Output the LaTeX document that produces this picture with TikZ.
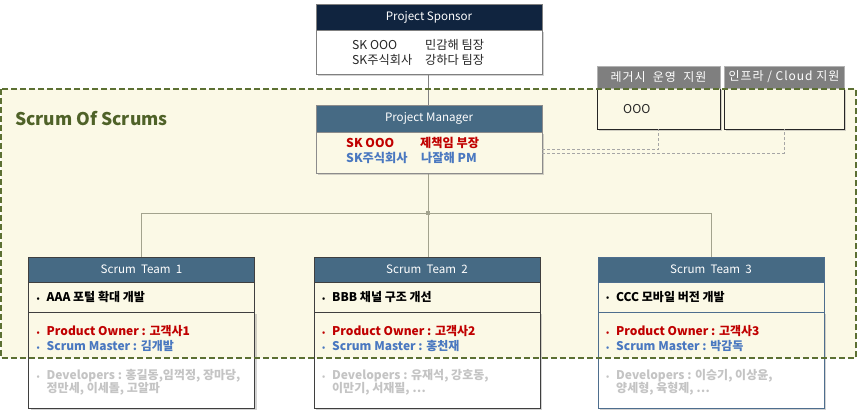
\documentclass[tikz,border=0pt]{standalone}
\usepackage{fontspec}
\setmainfont{Noto Sans CJK KR}
\usetikzlibrary{shadows,calc}

\definecolor{navy}{HTML}{10243F}
\definecolor{steel}{HTML}{466A84}
\definecolor{cream}{HTML}{FBF9E6}
\definecolor{olive}{HTML}{5C7033}
\definecolor{olivetext}{HTML}{4F6228}
\definecolor{pored}{HTML}{C00000}
\definecolor{smblue}{HTML}{4A78C0}
\definecolor{devgray}{HTML}{C4C4C4}
\definecolor{linkgray}{HTML}{A3A38E}
\definecolor{hdrgray}{HTML}{7F7F7F}
\definecolor{darkline}{HTML}{3F3F3F}
\definecolor{blueline}{HTML}{4E6E8E}

% font sizes
\newcommand\teamfont{\fontsize{12}{14}\selectfont}
\newcommand\bodyfont{\fontsize{12.2}{14}\selectfont}
\newcommand\headfont{\fontsize{11.6}{14}\selectfont}

% one bulleted line of text
\newcommand\bul[1]{\makebox[10pt][l]{\fontsize{8}{8}\selectfont\raisebox{0.5pt}{•}}#1}

% a scrum team card: name, centre x, border colour, number, goal, PO, SM, developers (two lines)
\newcommand\teamcard[9]{%
  \node[box=#3, fill=cream, shad, minimum width=226, minimum height=96,
        path picture={\fill[white] (path picture bounding box.south west)
          rectangle (path picture bounding box.east |- sosb);}] (#1b) at (#2,360) {};
  \node[box=#3, fill=cream, minimum width=226, minimum height=30] (#1a) at (#2,297) {};
  \node[box=#3, fill=steel, minimum width=226, minimum height=25, text=white, font=\headfont] (#1) at (#2,269.5) {Scrum\ \ Team\ \ #4};
  \node[txt, font=\teamfont\bfseries] (#1g) at ($(#1a.west)+(8,0)$) {\bul{#5}};
  \node[txt, font=\teamfont\bfseries, text=pored] (#1po) at ($(#1b.west)+(8,-29)$) {\bul{Product Owner : #6}};
  \node[txt, font=\teamfont\bfseries, text=smblue] (#1sm) at ($(#1b.west)+(8,-14)$) {\bul{Scrum Master : #7}};
  \node[txt, font=\teamfont\bfseries, text=devgray] (#1d1) at ($(#1b.west)+(8,16)$) {\bul{Developers : #8}};
  \node[txt, font=\teamfont\bfseries, text=devgray] (#1d2) at ($(#1b.west)+(18,29)$) {#9};
}

\begin{document}
\begin{tikzpicture}[x=1pt,y=-1pt, font=\bodyfont,
  box/.style={draw=#1, inner sep=0pt, outer sep=0pt, line width=0.8pt},
  shad/.style={drop shadow={shadow xshift=2pt, shadow yshift=-2pt, opacity=0.35}},
  txt/.style={anchor=west, inner sep=0pt},
  upline/.style={draw=gray, line width=0.8pt},
  lowline/.style={draw=linkgray, line width=0.9pt},
  dotline/.style={draw=black!35, line width=0.7pt, dash pattern=on 3pt off 2pt},
  sosline/.style={draw=olive, line width=2pt, dash pattern=on 6pt off 3pt},
  suphead/.style={box=gray!60, fill=hdrgray, minimum height=22, text=white,
    font=\fontsize{12}{14}\selectfont\addfontfeature{LetterSpace=8}}]

\useasboundingbox (0,0) rectangle (858,416);

% Scrum of Scrums area
\coordinate (sosb) at (0,358);
\node[fill=cream, inner sep=0pt, outer sep=0pt, minimum width=855, minimum height=269, anchor=north west] (sos) at (1,89) {};
\node[anchor=west, inner sep=0pt, text=olivetext, font=\fontsize{17.5}{20}\selectfont\bfseries] (sostitle) at (15,119) {Scrum Of Scrums};

% reporting lines
\node[fill=linkgray, inner sep=0pt, minimum size=3.5pt] (jn) at (428,213) {};
\coordinate (spbot) at (428,74);
\coordinate (pmtop) at (428,105);
\coordinate (pmbot) at (428,173);
\draw[upline] (spbot) -- (pmtop);
\draw[lowline] (pmbot) -- (jn);
\coordinate (t1top) at (141.5,257);
\coordinate (t2top) at (428,257);
\coordinate (t3top) at (711,257);
\draw[lowline] (jn) -| (t1top);
\draw[lowline] (jn) -- (t2top);
\draw[lowline] (jn) -| (t3top);

% Project Sponsor
\node[box=gray, fill=white, shad, minimum width=226, minimum height=44] (spb) at (429,52) {};
\node[box=gray, fill=navy, minimum width=226, minimum height=26, text=white, font=\headfont] (sp) at (429,17) {Project Sponsor};
\node[txt, text=black!85] (sp1) at (352,45) {SK OOO};
\node[txt, text=black!85] (sp2) at (425,45) {민감해 팀장};
\node[txt, text=black!85] (sp3) at (352,60) {SK주식회사};
\node[txt, text=black!85] (sp4) at (425,60) {강하다 팀장};

% support boxes
\node[box=black!85, fill=cream, shad, minimum width=123, minimum height=41] (lg1b) at (658.5,108.5) {};
\node[suphead, minimum width=123] (lg1) at (658.5,77) {레거시\ \ 운영\ \ 지원};
\node[txt, text=black!85] (lg1t) at (623,109) {OOO};
\node[box=black!85, fill=cream, shad, minimum width=120, minimum height=41] (lg2b) at (784,108.5) {};
\node[suphead, minimum width=120] (lg2) at (784,77) {인프라 / Cloud 지원};

% Project Manager
\node[box=gray!90, fill=cream, shad, minimum width=226, minimum height=41] (pmb) at (429,152.5) {};
\node[box=gray!90, fill=steel, minimum width=226, minimum height=27, text=white, font=\headfont] (pm) at (429,118.5) {Project Manager};
\node[txt, text=pored, font=\bodyfont\bfseries] (pm1) at (346,143) {SK OOO};
\node[txt, text=pored, font=\bodyfont\bfseries] (pm2) at (420,143) {제책임 부장};
\node[txt, text=smblue, font=\bodyfont\bfseries] (pm3) at (346,158) {SK주식회사};
\node[txt, text=smblue, font=\bodyfont\bfseries] (pm4) at (421,158) {나잘해 PM};

% links to support boxes
\draw[dotline] ([yshift=3.5pt]pmb.east) -| (lg1b.south);
\draw[dotline] ([yshift=-0.5pt]pmb.east) -| (lg2b.south);

% scrum teams
\teamcard{ta}{141.5}{darkline}{1}{AAA 포털 확대 개발}{고객사1}{김개발}{홍길동,임꺽정, 장마당,}{정만세, 이세돌, 고알파}
\teamcard{tb}{427}{darkline}{2}{BBB 채널 구조 개선}{고객사2}{홍천재}{유재석, 강호동,}{이만기, 서재필, …}
\teamcard{tc}{711}{blueline}{3}{CCC 모바일 버전 개발}{고객사3}{박감독}{이승기, 이상윤,}{양세형, 육형제, …}

% dashed frame on top
\draw[sosline] (sos.north west) rectangle (sos.south east);
\end{tikzpicture}
\end{document}
